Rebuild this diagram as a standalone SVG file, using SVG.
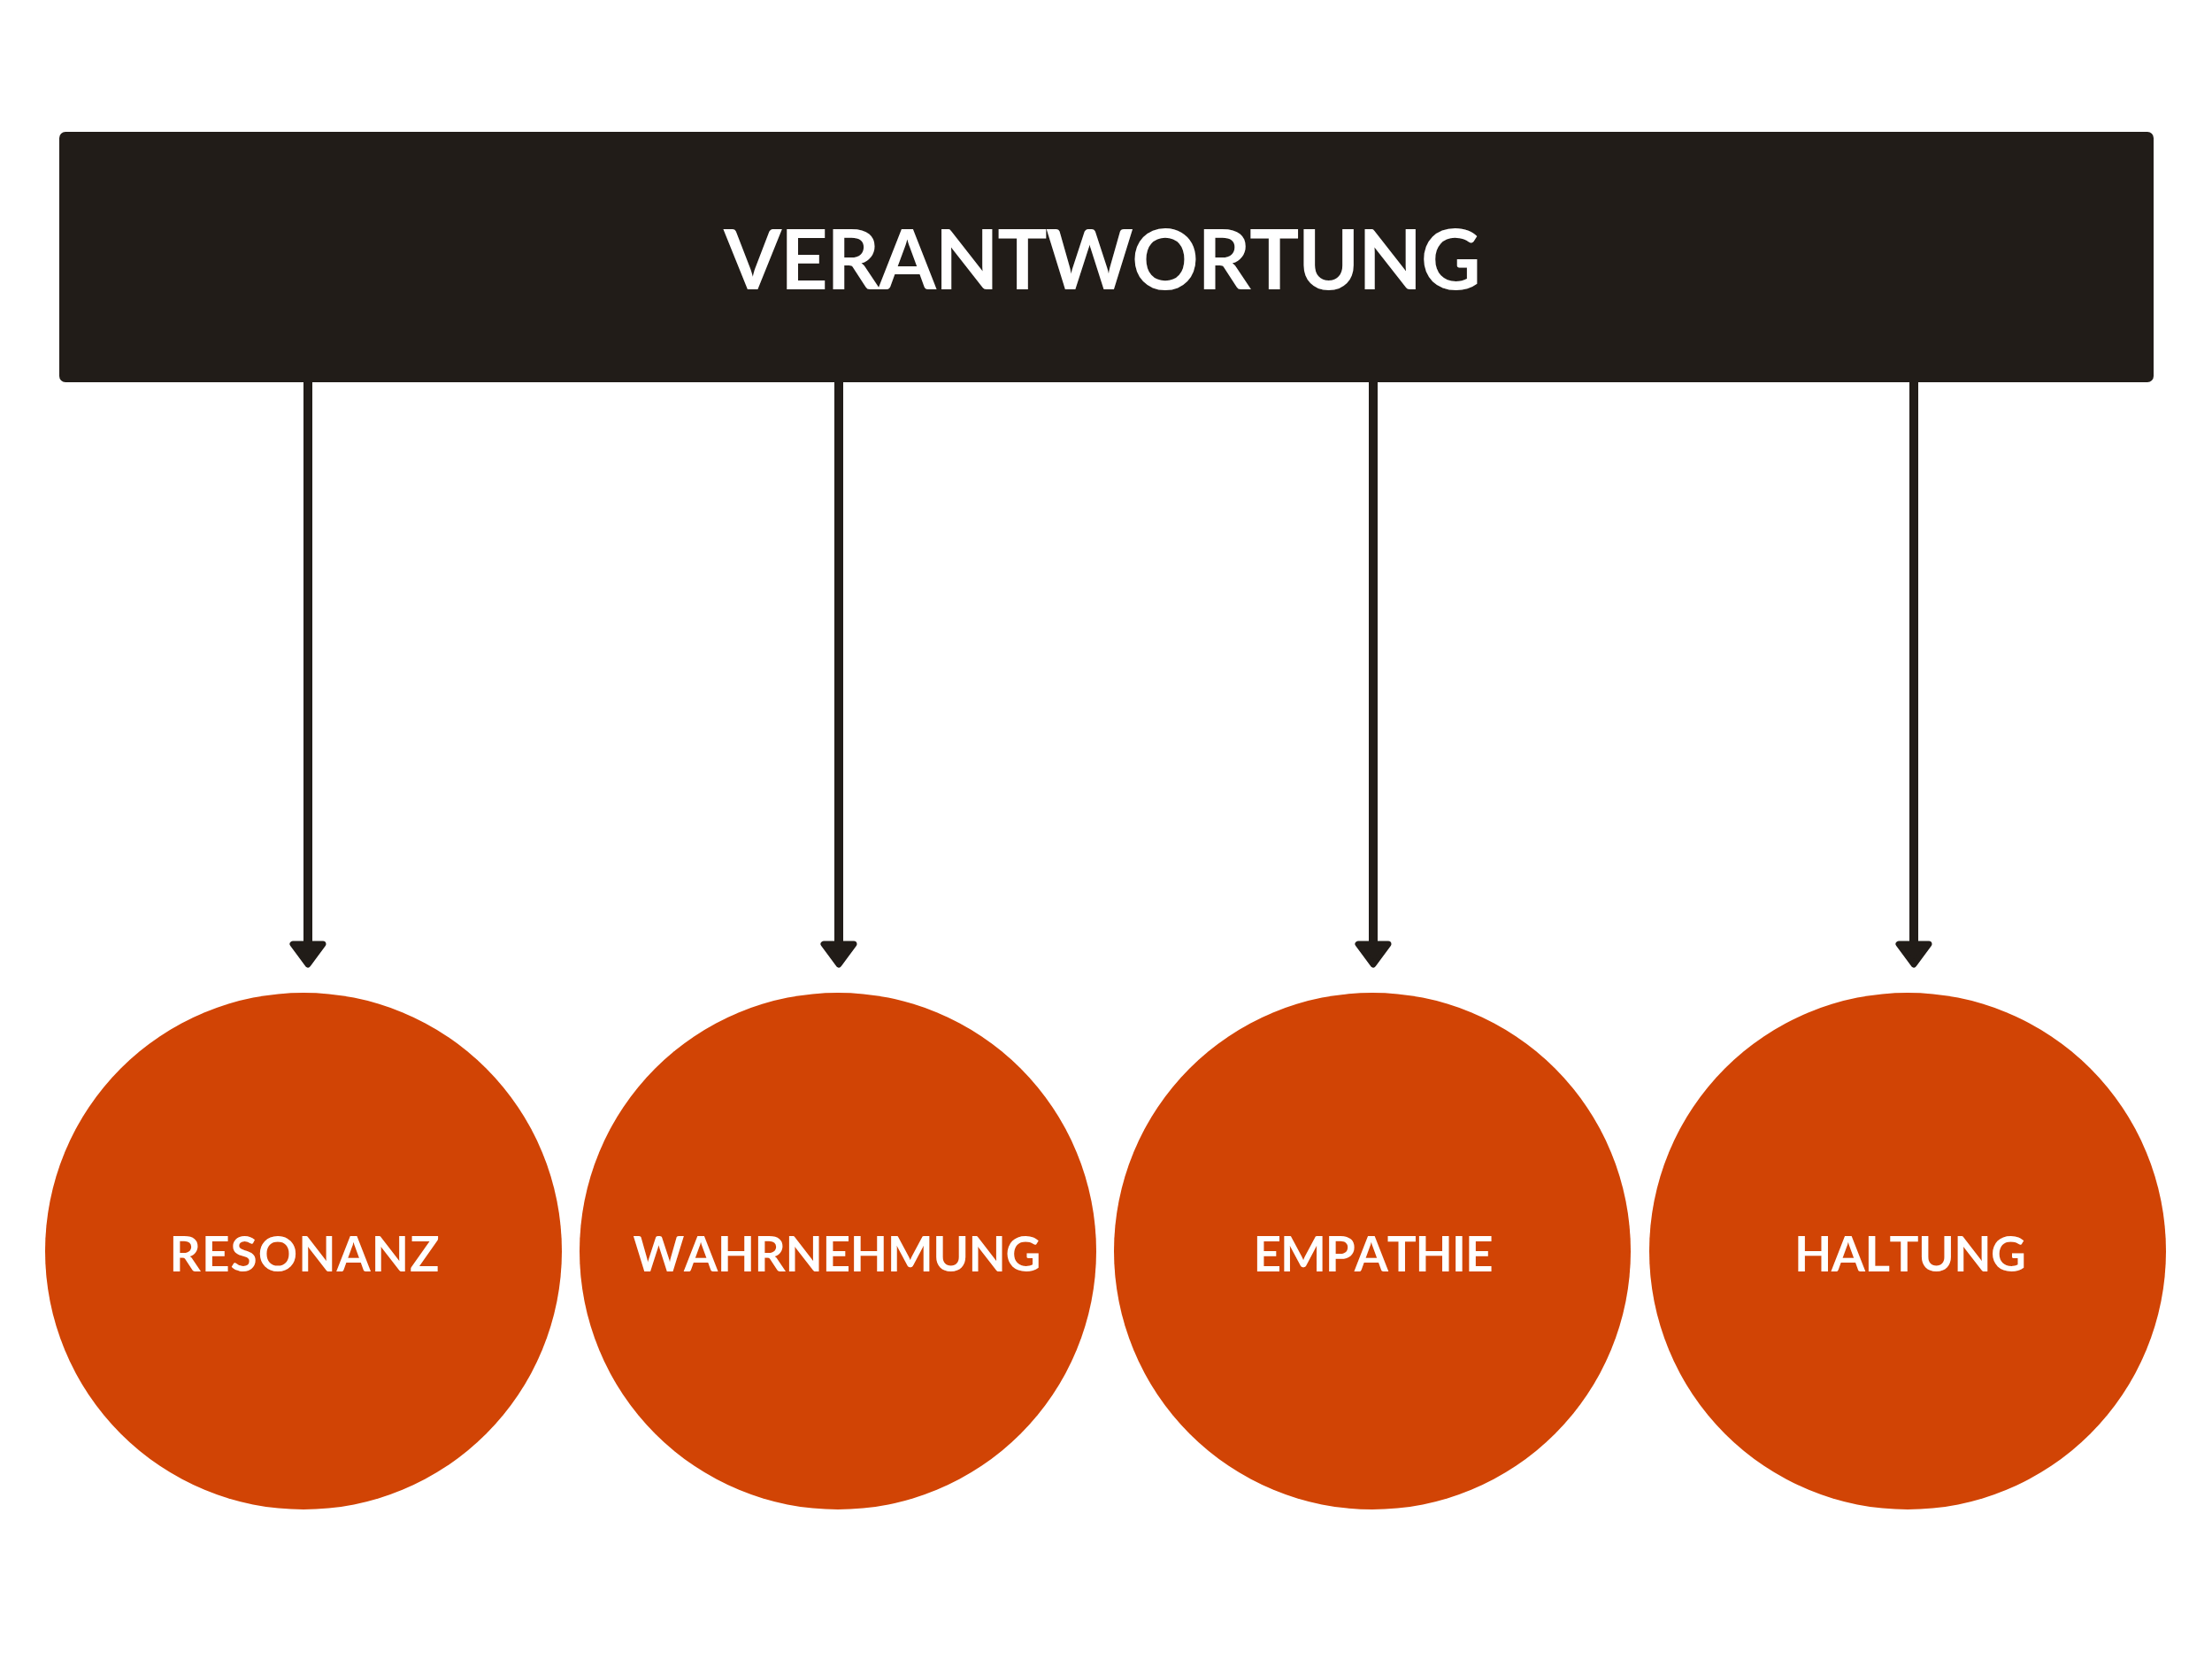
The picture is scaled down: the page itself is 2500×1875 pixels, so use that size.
<svg xmlns="http://www.w3.org/2000/svg" width="2500" height="1875" viewBox="0 0 2500 1875">
<style>
.bar{fill:#211c18}
.node{fill:#d14405}
.t{fill:#ffffff;font-family:Lato,"Liberation Sans",sans-serif;font-weight:700;text-anchor:middle;font-kerning:none}
.big{font-size:94px}
.small{font-size:55px}
.conn{stroke:#211c18;stroke-width:10;fill:none}
.head{fill:#211c18;stroke:#211c18;stroke-width:7;stroke-linejoin:round}
</style>
<rect width="2500" height="1875" fill="#ffffff"/>
<g id="verantwortung">
<rect class="bar" x="67" y="149" width="2367" height="283" rx="7"/>
<text class="t big" x="1246" y="327" textLength="856" lengthAdjust="spacing">VERANTWORTUNG</text>
</g>
<g id="connectors">
<line class="conn" x1="348" y1="432" x2="348" y2="1068"/>
<polygon class="head" points="331,1067 365,1067 348,1090"/>
<line class="conn" x1="948" y1="432" x2="948" y2="1068"/>
<polygon class="head" points="931,1067 965,1067 948,1090"/>
<line class="conn" x1="1552" y1="432" x2="1552" y2="1068"/>
<polygon class="head" points="1535,1067 1569,1067 1552,1090"/>
<line class="conn" x1="2163" y1="432" x2="2163" y2="1068"/>
<polygon class="head" points="2146,1067 2180,1067 2163,1090"/>
</g>
<g id="resonanz">
<circle class="node" cx="343" cy="1414" r="292"/>
<text class="t small" x="344" y="1437" textLength="305" lengthAdjust="spacing">RESONANZ</text>
</g>
<g id="wahrnehmung">
<circle class="node" cx="947" cy="1414" r="292"/>
<text class="t small" x="946" y="1437" textLength="461" lengthAdjust="spacing">WAHRNEHMUNG</text>
</g>
<g id="empathie">
<circle class="node" cx="1551" cy="1414" r="292"/>
<text class="t small" x="1552" y="1437" textLength="271" lengthAdjust="spacing">EMPATHIE</text>
</g>
<g id="haltung">
<circle class="node" cx="2156" cy="1414" r="292"/>
<text class="t small" x="2159" y="1437" textLength="262" lengthAdjust="spacing">HALTUNG</text>
</g>
</svg>
